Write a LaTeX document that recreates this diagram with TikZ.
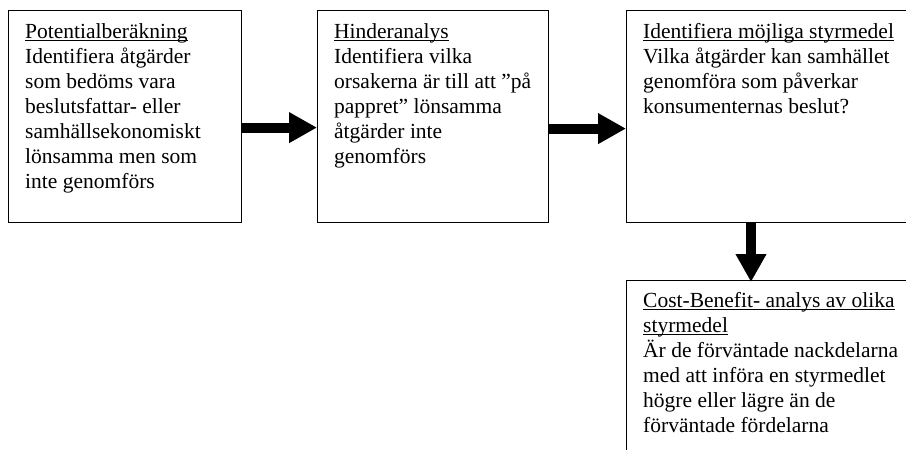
\documentclass[tikz,border=0pt]{standalone}
\usepackage{fontspec}
\setmainfont{Liberation Serif}
\usetikzlibrary{calc,arrows.meta}
\newcommand\uln[1]{\sbox0{#1}\rlap{\rule[-2.6pt]{\wd0}{1.1pt}}\usebox0}
\tikzset{
  box/.style={draw, line width=1.2pt, anchor=north west, inner sep=0pt},
  txt/.style={anchor=north west, inner sep=0pt, align=left,
    font=\fontsize{21.5}{25}\selectfont},
  blk/.style={line width=10pt, -{Triangle[width=29pt,length=28pt]}}
}
\begin{document}
\begin{tikzpicture}[x=1pt,y=-1pt]
\useasboundingbox (0,0) rectangle (906,450);
\clip (0,0) rectangle (906,450);
\node[box, minimum width=233pt, minimum height=212pt] (b1) at (8,10) {};
\node[box, minimum width=231pt, minimum height=212pt] (b2) at (317,10) {};
\node[box, minimum width=304pt, minimum height=212pt] (b3) at (626,10) {};
\node[box, minimum width=304pt, minimum height=200pt] (b4) at (626,280) {};
\node[txt] (t1) at ($(b1.north west)+(17,10.5)$) {\strut\uln{Potentialberäkning}\\
Identifiera åtgärder\\som bedöms vara\\beslutsfattar- eller\\samhällsekonomiskt\\lönsamma men som\\inte genomförs};
\node[txt] (t2) at ($(b2.north west)+(17,10.5)$) {\strut\uln{Hinderanalys}\\
Identifiera vilka\\orsakerna är till att ”på\\pappret” lönsamma\\åtgärder inte\\genomförs};
\node[txt] (t3) at ($(b3.north west)+(17,10.5)$) {\strut\uln{Identifiera möjliga styrmedel}\\
Vilka åtgärder kan samhället\\genomföra som påverkar\\konsumenternas beslut?};
\node[txt] (t4) at ($(b4.north west)+(17,9.5)$) {\strut\uln{Cost-Benefit- analys av olika}\\
\uln{styrmedel}\\Är de förväntade nackdelarna\\med att införa en styrmedlet\\högre eller lägre än de\\förväntade fördelarna};
\draw[blk] ($(b1.east)+(0,11)$) -- ($(b2.west)+(0,11)$);
\draw[blk] ($(b2.east)+(0,12)$) -- ($(b3.west)+(0,12)$);
\draw[blk] ($(b3.south west)+(125,0)$) -- ($(b4.north west)+(125,2)$);
\end{tikzpicture}
\end{document}
